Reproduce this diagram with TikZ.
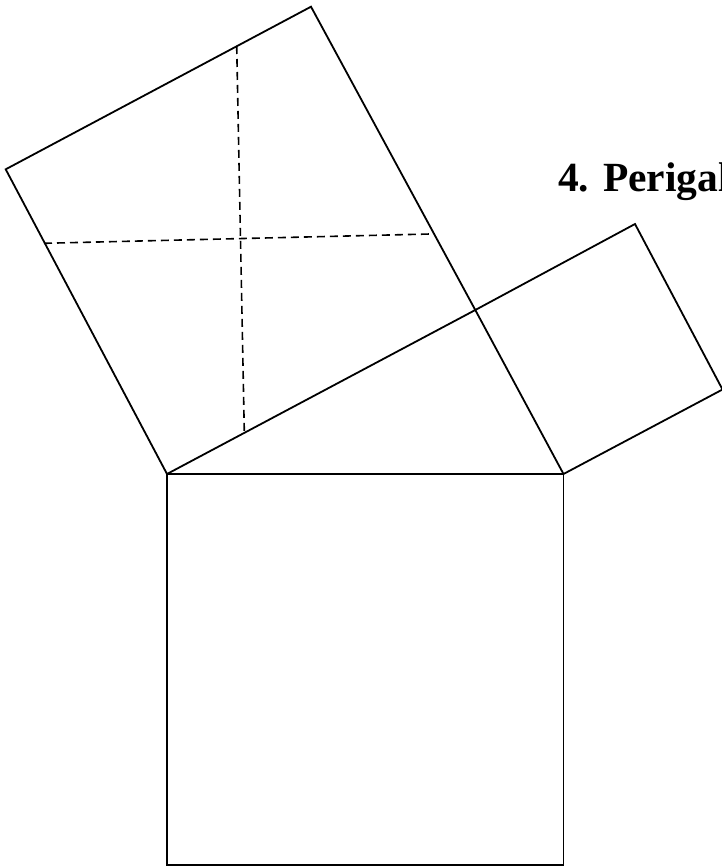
\documentclass[tikz,border=0pt]{standalone}
\usepackage{fontspec}
\setmainfont{Liberation Serif}
\begin{document}
\begin{tikzpicture}[x=1pt,y=-1pt,
  edge/.style={line width=1.8pt,line join=miter},
  cut/.style={line width=1.6pt,dash pattern=on 8pt off 5pt},
  title/.style={anchor=base west,inner sep=0pt,font=\fontsize{41.5}{45}\selectfont\bfseries}]
\useasboundingbox (0,0) rectangle (722,867);
\begin{scope}
\clip (0,0) rectangle (722,867);
% vertices
\coordinate (A) at (167,474);
\coordinate (B) at (563.5,474);
\coordinate (C) at (475.3,310);
\coordinate (Cl) at (311,6.7);
\coordinate (Al) at (5.7,169.3);
\coordinate (Cs) at (635,224);
\coordinate (Bs) at (722.5,389.5);
\coordinate (D1) at (167,865);
\coordinate (D2) at (563.5,865);
% dissection cut ends
\coordinate (T) at (236.7,46);
\coordinate (Bo) at (244.3,431.7);
\coordinate (L) at (44,243.3);
\coordinate (R) at (430,234);
% squares
\draw[edge] (A) -- (C) -- (Cl) -- (Al) -- cycle;
\draw[edge] (C) -- (Cs) -- (Bs) -- (B) -- cycle;
\draw[edge] (A) -- (B) -- (D2) -- (D1) -- cycle;
% cuts
\draw[cut] (T) -- (Bo);
\draw[cut] (L) -- (R);
\node[title] (ttl) at (558,191.7) {4. Perigal};
\end{scope}
\end{tikzpicture}
\end{document}
